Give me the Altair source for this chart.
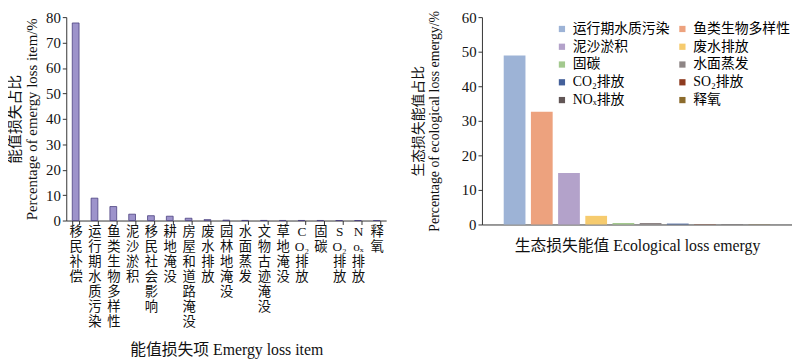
import altair as alt
import pandas as pd

# ---- data ----
left_items = ["移民补偿", "运行期水质污染", "鱼类生物多样性", "泥沙淤积", "移民社会影响",
              "耕地淹没", "房屋和道路淹没", "废水排放", "园林地淹没", "水面蒸发",
              "文物古迹淹没", "草地淹没", "CO₂排放", "固碳", "SO₂排放", "Noₓ排放", "释氧"]
left_values = [77.7, 8.8, 5.5, 2.5, 1.9, 1.7, 0.9, 0.35, 0.15, 0.05,
               0.04, 0.03, 0.03, 0.02, 0.01, 0.01, 0.01]

right_items = ["运行期水质污染", "鱼类生物多样性", "泥沙淤积", "废水排放", "固碳",
               "水面蒸发", "CO₂排放", "SO₂排放", "NOₓ排放", "释氧"]
right_values = [48.9, 32.6, 14.9, 2.5, 0.4, 0.4, 0.25, 0.08, 0.06, 0.06]
right_colors = ["#9db3d6", "#eda27e", "#b3a2ca", "#f6cb6e", "#a3c98e",
                "#8e8585", "#44609a", "#8e3b1f", "#625656", "#8c6b2c"]

FONT = "Liberation Serif, Noto Sans CJK SC"

left_df = pd.DataFrame({"item": left_items, "value": left_values})
right_df = pd.DataFrame({"item": right_items, "value": right_values})

# legend fills column by column: interleave so it reads row by row like the reference
legend_order = right_items[0::2] + right_items[1::2]
legend_colors = [right_colors[right_items.index(i)] for i in legend_order]

label_expr = ("datum.label == 'CO₂排放' ? ['C','O₂','排','放'] : "
              "datum.label == 'SO₂排放' ? ['S','O₂','排','放'] : "
              "datum.label == 'Noₓ排放' ? ['N','oₓ','排','放'] : split(datum.label, '')")

left = alt.Chart(left_df).mark_bar(
    fill="#9d93cb", stroke="#4a3f7f", strokeWidth=0.8
).encode(
    x=alt.X("item:N", sort=left_items,
            scale=alt.Scale(paddingInner=0.64, paddingOuter=0.32),
            axis=alt.Axis(title="能值损失项 Emergy loss item", labelAngle=0,
                          labelExpr=label_expr, tickBand="extent",
                          labelBaseline="top", labelAlign="center",
                          labelLineHeight=15.3, labelFontSize=13.5, labelPadding=0,
                          tickSize=4, titlePadding=13, titleFontSize=16)),
    y=alt.Y("value:Q", scale=alt.Scale(domain=[0, 80]),
            axis=alt.Axis(values=list(range(0, 81, 10)),
                          title=["能值损失占比", "Percentage of emergy loss item/%"],
                          grid=False, tickSize=4, labelFontSize=15,
                          titleFontSize=15, titlePadding=6))
).properties(width=324, height=206)

right = alt.Chart(right_df).mark_bar().encode(
    x=alt.X("item:N", sort=right_items,
            scale=alt.Scale(paddingInner=0.2, paddingOuter=0.8),
            axis=alt.Axis(labels=False, ticks=False,
                          title="生态损失能值 Ecological loss emergy",
                          titlePadding=13, titleFontSize=16)),
    y=alt.Y("value:Q", scale=alt.Scale(domain=[0, 60]),
            axis=alt.Axis(values=list(range(0, 61, 10)),
                          title=["生态损失能值占比", "Percentage of ecological loss emergy/%"],
                          grid=False, tickSize=4, labelFontSize=15,
                          titleFontSize=14, titlePadding=20)),
    color=alt.Color("item:N",
                    scale=alt.Scale(domain=legend_order, range=legend_colors),
                    legend=alt.Legend(title=None, orient="none", legendX=495, legendY=5,
                                      columns=2, symbolType="square", symbolSize=40,
                                      labelFontSize=14, labelFont=FONT, rowPadding=4,
                                      columnPadding=6, labelLimit=200))
).properties(width=314, height=210)

chart = alt.hconcat(left, right, spacing=26).properties(
    padding={"left": 0, "top": 0, "right": 0, "bottom": 0}
).configure(font=FONT).configure_view(stroke=None).configure_axis(
    domainColor="#333333", tickColor="#333333", labelColor="#111111",
    titleColor="#111111", labelFont=FONT, titleFont=FONT, titleFontWeight="normal"
)

chart.save("out.html", embed_options={"renderer": "svg", "actions": False})
